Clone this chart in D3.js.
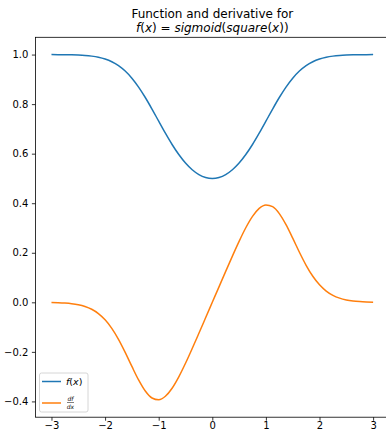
<!DOCTYPE html>
<html>
<head>
<meta charset="utf-8">
<script src="https://cdn.jsdelivr.net/npm/d3@7.9.0/dist/d3.min.js"></script>
<style>
  body { margin: 0; background: #fff; }
  svg { display: block; font-family: "DejaVu Sans", sans-serif; }
</style>
</head>
<body>
<svg id="chart" width="386" height="430"></svg>
<script>
const xs = [-3, -2.875, -2.75, -2.625, -2.5, -2.375, -2.25, -2.125, -2, -1.875, -1.75, -1.625, -1.5,
            -1.375, -1.25, -1.125, -1, -0.875, -0.75, -0.625, -0.5, -0.375, -0.25, -0.125, 0,
            0.125, 0.25, 0.375, 0.5, 0.625, 0.75, 0.875, 1, 1.125, 1.25, 1.375, 1.5,
            1.625, 1.75, 1.875, 2, 2.125, 2.25, 2.375, 2.5, 2.625, 2.75, 2.875, 3];
const fValues = [0.9999, 0.9997, 0.9995, 0.9990, 0.9981, 0.9965, 0.9937, 0.9892, 0.9820, 0.9711, 0.9553, 0.9334, 0.9047,
                 0.8688, 0.8267, 0.7800, 0.7311, 0.6826, 0.6370, 0.5964, 0.5622, 0.5351, 0.5156, 0.5039, 0.5,
                 0.5039, 0.5156, 0.5351, 0.5622, 0.5964, 0.6370, 0.6826, 0.7311, 0.7800, 0.8267, 0.8688, 0.9047,
                 0.9334, 0.9553, 0.9711, 0.9820, 0.9892, 0.9937, 0.9965, 0.9981, 0.9990, 0.9995, 0.9997, 0.9999];
const dfValues = [-0.0007, -0.0015, -0.0029, -0.0053, -0.0096, -0.0168, -0.0281, -0.0455, -0.0707, -0.1051, -0.1494, -0.2020, -0.2588,
                  -0.3134, -0.3582, -0.3861, -0.3932, -0.3792, -0.3468, -0.3009, -0.2461, -0.1866, -0.1249, -0.0625, 0,
                  0.0625, 0.1249, 0.1866, 0.2461, 0.3009, 0.3468, 0.3792, 0.3932, 0.3861, 0.3582, 0.3134, 0.2588,
                  0.2020, 0.1494, 0.1051, 0.0707, 0.0455, 0.0281, 0.0168, 0.0096, 0.0053, 0.0029, 0.0015, 0.0007];
const xTicks = [-3, -2, -1, 0, 1, 2, 3];
const yTicks = [-0.4, -0.2, 0.0, 0.2, 0.4, 0.6, 0.8, 1.0];

const svg = d3.select('#chart');
const plotLeft = 35.4, plotRight = 389.2, plotTop = 37.3, plotBottom = 417.2;

const x = d3.scaleLinear().domain([-3.3, 3.3]).range([plotLeft, plotRight]);
const y = d3.scaleLinear().domain([-0.4637, 1.0697]).range([plotBottom, plotTop]);

// spines
svg.append('rect')
  .attr('x', plotLeft).attr('y', plotTop)
  .attr('width', plotRight - plotLeft).attr('height', plotBottom - plotTop)
  .attr('fill', 'none').attr('stroke', '#000').attr('stroke-width', 0.8);

const xAxis = svg.append('g')
  .attr('transform', `translate(0,${plotBottom})`)
  .call(d3.axisBottom(x).tickValues(xTicks).tickSize(3.5).tickPadding(1.5)
    .tickFormat(d => d < 0 ? '\u2212' + Math.abs(d) : d));
const yAxis = svg.append('g')
  .attr('transform', `translate(${plotLeft},0)`)
  .call(d3.axisLeft(y).tickValues(yTicks).tickSize(3.5).tickPadding(3.5)
    .tickFormat(d => (d < 0 ? '\u2212' : '') + Math.abs(d).toFixed(1)));
[xAxis, yAxis].forEach(g => {
  g.select('.domain').remove();
  g.selectAll('line').attr('stroke', '#000').attr('stroke-width', 0.8);
  g.selectAll('text').attr('fill', '#000').attr('font-size', 10)
    .attr('font-family', '"DejaVu Sans", sans-serif');
});

const line = d3.line()
  .x(d => x(d[0]))
  .y(d => y(d[1]))
  .curve(d3.curveMonotoneX);

svg.append('path')
  .datum(xs.map((v, i) => [v, fValues[i]]))
  .attr('d', line)
  .attr('fill', 'none').attr('stroke', '#1f77b4').attr('stroke-width', 1.5);
svg.append('path')
  .datum(xs.map((v, i) => [v, dfValues[i]]))
  .attr('d', line)
  .attr('fill', 'none').attr('stroke', '#ff7f0e').attr('stroke-width', 1.5);

// title
const cx = (plotLeft + plotRight) / 2;
svg.append('text').attr('x', cx).attr('y', 17.5)
  .attr('text-anchor', 'middle').attr('font-size', 12)
  .text('Function and derivative for');
const t2 = svg.append('text').attr('x', cx).attr('y', 32)
  .attr('text-anchor', 'middle').attr('font-size', 12);
[['f', true], ['(', false], ['x', true], [') = ', false], ['sigmoid', true], ['(', false],
 ['square', true], ['(', false], ['x', true], ['))', false]].forEach(([s, it]) => {
  t2.append('tspan').attr('font-style', it ? 'italic' : 'normal').text(s);
});

// legend
const lg = svg.append('g');
lg.append('rect')
  .attr('x', 39.5).attr('y', 373).attr('width', 48.5).attr('height', 39)
  .attr('rx', 2).attr('fill', '#fff').attr('fill-opacity', 0.8)
  .attr('stroke', '#cccccc').attr('stroke-width', 0.8);
lg.append('line').attr('x1', 42).attr('x2', 61).attr('y1', 381.5).attr('y2', 381.5)
  .attr('stroke', '#1f77b4').attr('stroke-width', 1.5);
lg.append('line').attr('x1', 42).attr('x2', 61).attr('y1', 403).attr('y2', 403)
  .attr('stroke', '#ff7f0e').attr('stroke-width', 1.5);
const l1 = lg.append('text').attr('x', 66).attr('y', 385).attr('font-size', 9.5);
[['f', true], ['(', false], ['x', true], [')', false]].forEach(([s, it]) => {
  l1.append('tspan').attr('font-style', it ? 'italic' : 'normal').text(s);
});
lg.append('text').attr('x', 70.5).attr('y', 400.5).attr('text-anchor', 'middle')
  .attr('font-size', 6).attr('font-style', 'italic').text('df');
lg.append('line').attr('x1', 67).attr('x2', 74).attr('y1', 402.5).attr('y2', 402.5)
  .attr('stroke', '#000').attr('stroke-width', 0.5);
lg.append('text').attr('x', 70.5).attr('y', 408.5).attr('text-anchor', 'middle')
  .attr('font-size', 6).attr('font-style', 'italic').text('dx');
</script>
</body>
</html>
